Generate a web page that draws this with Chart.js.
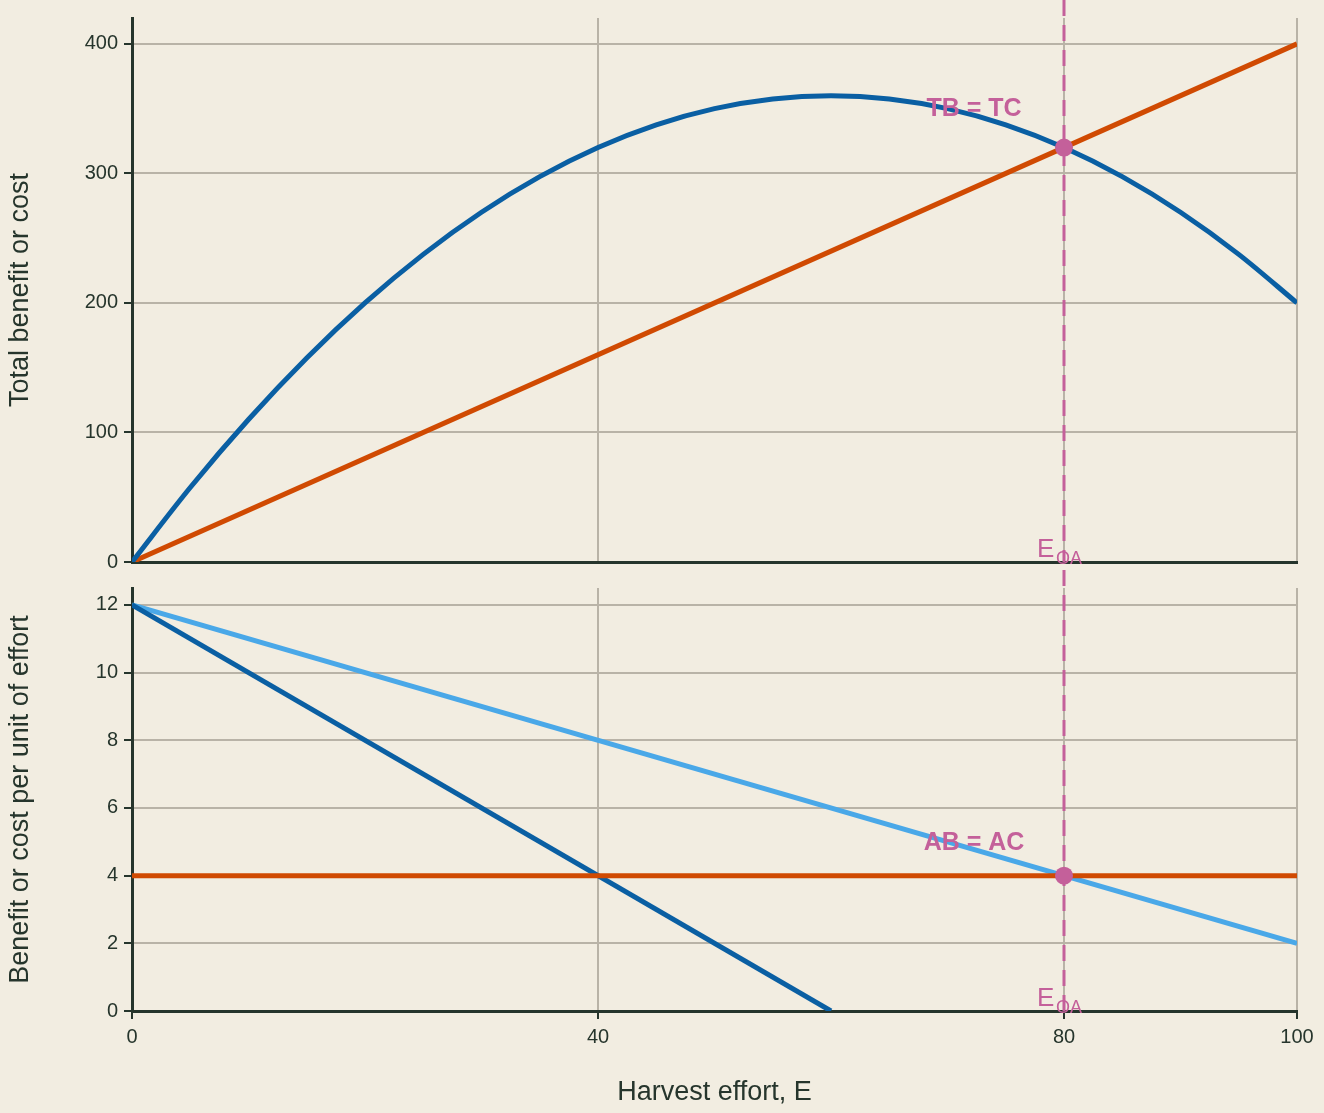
<!DOCTYPE html>
<html><head><meta charset="utf-8">
<script src="https://cdn.jsdelivr.net/npm/chart.js@4"></script>
<style>
html,body{margin:0;padding:0;background:#f2ede1;width:1324px;height:1113px;overflow:hidden}
.w{position:absolute;left:0;width:1324px}
</style></head><body>
<div class="w" style="top:0;height:580px"><canvas id="c1"></canvas></div>
<div class="w" style="top:570px;height:543px"><canvas id="c2"></canvas></div>
<script>
const effort = [0,5,10,15,20,25,30,35,40,45,50,55,60,65,70,75,80,85,90,95,100];
const totalBenefit = [0,57.5,110,157.5,200,237.5,270,297.5,320,337.5,350,357.5,360,357.5,350,337.5,320,297.5,270,237.5,200];
const totalCostE = [0,100];
const totalCost = [0,400];
const avgBenefitE = [0,100];
const avgBenefit = [12,2];
const margBenefitE = [0,60];
const margBenefit = [12,0];
const avgCostE = [0,100];
const avgCost = [4,4];
const xTicks = [0,40,80,100];
const topTicks = [0,100,200,300,400];
const botTicks = [0,2,4,6,8,10,12];
const openAccess = {E:80, tb:320, ab:4};

const BG='#f2ede1', GRID='#b9b3a7', AX='#26352c', BLUE='#0a5fa3', ORANGE='#d04a02', LBLUE='#4aa8e8', PINK='#c4609a';
const xy=(xs,ys)=>xs.map((x,i)=>({x,y:ys[i]}));
Chart.defaults.font.family='Liberation Sans, Arial, sans-serif';
Chart.defaults.color='#26352c';

function overlay(lblY, label, ptY){
  return {id:'ov',afterDatasetsDraw(ch){
    const c=ch.ctx,a=ch.chartArea,x=ch.scales.x.getPixelForValue(openAccess.E);
    c.save();
    c.strokeStyle=PINK;c.lineWidth=3;c.setLineDash([16,9]);
    c.beginPath();c.moveTo(x,0);c.lineTo(x,a.bottom);c.stroke();
    c.setLineDash([]);
    c.fillStyle=PINK;c.beginPath();c.arc(x,ch.scales.y.getPixelForValue(ptY),9,0,Math.PI*2);c.fill();
    c.font='bold 25px Liberation Sans, Arial';c.textAlign='center';c.textBaseline='middle';
    c.fillText(label,x-90,ch.scales.y.getPixelForValue(lblY));
    c.font='26px Liberation Sans, Arial';c.textAlign='left';c.textBaseline='alphabetic';
    c.fillText('E',x-27,a.bottom-5);
    c.font='18px Liberation Sans, Arial';c.fillText('OA',x-8,a.bottom+2);
    c.restore();
  }};
}
const bgPlugin={id:'bg',beforeDraw(ch){const c=ch.ctx;c.save();c.fillStyle=BG;c.fillRect(0,0,ch.width,ch.height);c.restore();}};

function xScale(showLabels){
  return {type:'linear',min:0,max:100,
    afterBuildTicks:s=>{s.ticks=xTicks.map(v=>({value:v}));},
    afterFit:s=>{s.height=showLabels?102:0;},
    grid:{color:c=>c.tick&&c.tick.value===0?'rgba(0,0,0,0)':GRID,lineWidth:2,drawTicks:showLabels,tickLength:8,tickColor:AX},
    border:{color:AX,width:3},
    ticks:{display:showLabels,font:{size:20},padding:6,maxRotation:0},
    title:{display:showLabels,text:'Harvest effort, E',font:{size:27},padding:{top:8}}};
}
function yScale(max,ticks,title){
  return {min:0,max,
    afterBuildTicks:s=>{s.ticks=ticks.map(v=>({value:v}));},
    afterFit:s=>{s.width=132;},
    grid:{color:GRID,lineWidth:2,tickLength:8,tickColor:AX},
    border:{color:AX,width:3},
    ticks:{font:{size:20},padding:6},
    title:{display:true,text:title,font:{size:27},padding:{bottom:6}}};
}
const common={responsive:true,maintainAspectRatio:false,animation:false,
  plugins:{legend:{display:false},tooltip:{enabled:false}},
  elements:{point:{radius:0}}};

new Chart(document.getElementById('c1'),{type:'line',
  data:{datasets:[
    {data:xy(effort,totalBenefit),borderColor:BLUE,borderWidth:5,tension:0.4,cubicInterpolationMode:'monotone'},
    {data:xy(totalCostE,totalCost),borderColor:ORANGE,borderWidth:5}]},
  options:{...common,layout:{padding:{top:10,right:27,bottom:14,left:0}},
    scales:{x:xScale(false),y:yScale(420,topTicks,'Total benefit or cost')}},
  plugins:[bgPlugin,overlay(350,'TB = TC',openAccess.tb)]});

new Chart(document.getElementById('c2'),{type:'line',
  data:{datasets:[
    {data:xy(avgCostE,avgCost),borderColor:ORANGE,borderWidth:5},
    {data:xy(margBenefitE,margBenefit),borderColor:BLUE,borderWidth:5},
    {data:xy(avgBenefitE,avgBenefit),borderColor:LBLUE,borderWidth:5}]},
  options:{...common,layout:{padding:{top:8,right:27,bottom:0,left:0}},
    scales:{x:xScale(true),y:yScale(12.5,botTicks,'Benefit or cost per unit of effort')}},
  plugins:[bgPlugin,overlay(4.95,'AB = AC',openAccess.ab)]});
</script></body></html>
